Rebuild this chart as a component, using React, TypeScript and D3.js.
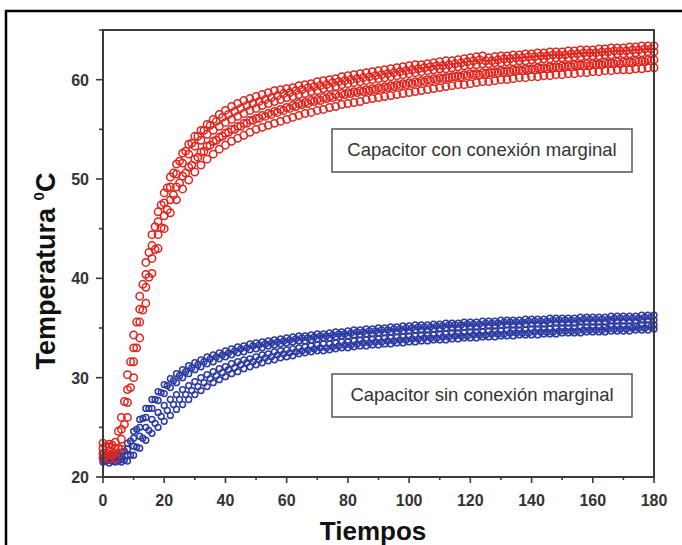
import React from "react";
import * as d3 from "d3";

const TIME_EVEN = d3.range(0, 181, 2);
const TIME_ODD = d3.range(1, 180, 2);
const X_TICKS = [0, 20, 40, 60, 80, 100, 120, 140, 160, 180];
const X_MINOR = d3.range(10, 180, 20);
const Y_TICKS = [20, 30, 40, 50, 60];
const Y_MINOR = [25, 35, 45, 55, 65];

// red traces (even seconds)
const RED_1 = [23.4,23.3,23.5,26.0,30.3,34.3,38.2,41.6,44.4,46.7,48.6,50.2,51.5,52.6,53.5,54.3,54.9,55.5,56.0,56.5,56.9,57.3,57.6,57.9,58.1,58.3,58.5,58.7,58.9,59.0,59.1,59.2,59.4,59.5,59.6,59.8,59.9,60.0,60.1,60.3,60.4,60.5,60.6,60.7,60.8,60.9,61.0,61.1,61.2,61.3,61.4,61.5,61.5,61.6,61.7,61.8,61.9,61.9,62.0,62.1,62.2,62.3,62.4,62.2,62.3,62.4,62.4,62.5,62.5,62.6,62.6,62.7,62.7,62.8,62.8,62.8,62.9,62.9,63.0,63.0,63.0,63.1,63.1,63.2,63.2,63.2,63.3,63.3,63.4,63.4,63.4];
const RED_2 = [22.9,23.0,22.9,24.8,28.8,33.0,36.9,40.4,43.3,45.7,47.6,49.2,50.5,51.6,52.5,53.3,53.9,54.5,54.9,55.3,55.7,56.0,56.3,56.6,56.9,57.1,57.4,57.6,57.8,58.0,58.2,58.3,58.5,58.6,58.8,58.9,59.1,59.2,59.3,59.5,59.6,59.7,59.8,59.9,60.0,60.1,60.2,60.3,60.4,60.5,60.6,60.7,60.8,60.9,61.0,61.1,61.1,61.2,61.3,61.4,61.5,61.5,61.6,61.6,61.7,61.7,61.8,61.8,61.9,61.9,62.0,62.0,62.1,62.1,62.2,62.2,62.2,62.3,62.3,62.4,62.4,62.4,62.5,62.5,62.6,62.6,62.6,62.7,62.7,62.8,62.8];
const RED_3 = [22.4,22.3,22.4,23.8,27.5,31.6,35.6,39.1,42.0,44.4,46.3,47.9,49.2,50.3,51.2,52.0,52.7,53.3,53.8,54.2,54.6,55.0,55.3,55.6,55.9,56.1,56.4,56.6,56.8,57.0,57.2,57.4,57.6,57.7,57.9,58.0,58.2,58.3,58.5,58.6,58.7,58.8,58.9,59.0,59.1,59.2,59.3,59.4,59.5,59.6,59.7,59.8,59.9,60.0,60.1,60.2,60.2,60.3,60.4,60.5,60.6,60.6,60.7,60.7,60.8,60.9,60.9,61.0,61.0,61.1,61.1,61.2,61.2,61.3,61.3,61.4,61.4,61.5,61.5,61.6,61.6,61.6,61.7,61.7,61.8,61.8,61.8,61.9,61.9,62.0,62.0];
const RED_4 = [21.9,21.8,21.9,22.8,26.0,30.0,34.0,37.5,40.5,43.0,45.0,46.6,47.9,49.0,49.9,50.7,51.4,52.0,52.5,53.0,53.4,53.8,54.1,54.4,54.7,55.0,55.2,55.4,55.6,55.8,56.0,56.2,56.4,56.6,56.7,56.9,57.0,57.2,57.3,57.5,57.6,57.7,57.8,58.0,58.1,58.2,58.3,58.4,58.5,58.6,58.7,58.8,58.9,59.0,59.1,59.2,59.3,59.4,59.5,59.5,59.6,59.7,59.8,59.8,59.9,60.0,60.0,60.1,60.2,60.2,60.3,60.3,60.4,60.4,60.5,60.5,60.6,60.6,60.7,60.7,60.8,60.8,60.9,60.9,61.0,61.0,61.0,61.1,61.1,61.2,61.2];
// red traces (odd seconds)
const RED_5 = [23.1,23.2,24.6,27.6,31.6,35.6,39.4,42.6,45.2,47.4,49.1,50.6,51.8,52.8,53.6,54.3,54.9,55.4,55.8,56.2,56.5,56.8,57.1,57.4,57.6,57.8,58.0,58.2,58.4,58.6,58.7,58.9,59.0,59.2,59.3,59.4,59.5,59.7,59.8,59.9,60.0,60.1,60.2,60.3,60.4,60.5,60.6,60.7,60.8,60.9,61.0,61.1,61.2,61.3,61.4,61.4,61.5,61.6,61.7,61.8,61.9,62.0,61.9,61.9,62.0,62.1,62.1,62.2,62.2,62.3,62.3,62.4,62.4,62.5,62.5,62.5,62.6,62.6,62.7,62.7,62.7,62.8,62.8,62.9,62.9,62.9,63.0,63.0,63.1,63.1];
const RED_6 = [22.1,22.2,22.9,25.3,29.0,33.0,36.8,40.1,42.9,45.1,46.9,48.4,49.6,50.6,51.4,52.2,52.8,53.4,53.9,54.3,54.7,55.0,55.3,55.6,55.9,56.1,56.3,56.5,56.7,56.9,57.1,57.3,57.5,57.6,57.8,57.9,58.1,58.2,58.3,58.5,58.6,58.7,58.8,58.9,59.0,59.1,59.2,59.3,59.4,59.5,59.6,59.7,59.8,59.9,60.0,60.1,60.2,60.3,60.3,60.4,60.5,60.5,60.6,60.7,60.7,60.8,60.8,60.9,60.9,61.0,61.0,61.1,61.1,61.2,61.2,61.3,61.3,61.4,61.4,61.4,61.5,61.5,61.6,61.6,61.6,61.7,61.7,61.8,61.8,61.9];

// blue traces (even seconds)
const BLUE_1 = [22.3,22.2,22.3,22.5,23.4,24.6,25.8,26.9,27.8,28.6,29.3,29.9,30.4,30.8,31.2,31.5,31.8,32.1,32.3,32.5,32.7,32.9,33.1,33.2,33.4,33.5,33.6,33.7,33.8,33.9,34.0,34.1,34.2,34.2,34.3,34.4,34.4,34.5,34.6,34.6,34.7,34.8,34.8,34.9,34.9,35.0,35.0,35.1,35.1,35.2,35.2,35.3,35.3,35.3,35.4,35.4,35.5,35.5,35.5,35.6,35.6,35.6,35.7,35.7,35.7,35.8,35.8,35.8,35.8,35.9,35.9,35.9,35.9,36.0,36.0,36.0,36.0,36.0,36.1,36.1,36.1,36.1,36.1,36.2,36.2,36.2,36.2,36.2,36.3,36.3,36.3];
const BLUE_2 = [22.0,21.9,22.0,22.1,22.8,23.9,25.0,26.0,26.9,27.7,28.4,29.0,29.5,30.0,30.4,30.8,31.1,31.4,31.6,31.9,32.1,32.3,32.5,32.6,32.8,32.9,33.0,33.2,33.3,33.4,33.5,33.6,33.7,33.7,33.8,33.9,34.0,34.0,34.1,34.2,34.2,34.3,34.3,34.4,34.4,34.5,34.5,34.6,34.6,34.7,34.7,34.8,34.8,34.8,34.9,34.9,35.0,35.0,35.0,35.1,35.1,35.1,35.2,35.2,35.2,35.3,35.3,35.3,35.3,35.4,35.4,35.4,35.4,35.5,35.5,35.5,35.5,35.5,35.6,35.6,35.6,35.6,35.6,35.7,35.7,35.7,35.7,35.7,35.8,35.8,35.8];
const BLUE_3 = [21.7,21.7,21.8,21.8,22.2,23.1,24.1,25.0,25.8,26.5,27.2,27.8,28.3,28.8,29.2,29.6,30.0,30.3,30.6,30.9,31.1,31.4,31.6,31.8,31.9,32.1,32.3,32.4,32.6,32.7,32.8,32.9,33.0,33.1,33.2,33.3,33.4,33.4,33.5,33.6,33.6,33.7,33.8,33.8,33.9,33.9,34.0,34.0,34.1,34.1,34.2,34.2,34.3,34.3,34.3,34.4,34.4,34.5,34.5,34.5,34.6,34.6,34.6,34.7,34.7,34.7,34.8,34.8,34.8,34.8,34.9,34.9,34.9,34.9,35.0,35.0,35.0,35.0,35.1,35.1,35.1,35.1,35.1,35.2,35.2,35.2,35.2,35.2,35.3,35.3,35.3];
const BLUE_4 = [21.5,21.4,21.5,21.5,21.6,22.2,22.9,23.7,24.4,25.0,25.6,26.2,26.8,27.3,27.8,28.3,28.7,29.1,29.5,29.8,30.1,30.4,30.6,30.9,31.1,31.3,31.5,31.7,31.8,32.0,32.1,32.2,32.4,32.5,32.6,32.7,32.7,32.8,32.9,33.0,33.0,33.1,33.2,33.2,33.3,33.3,33.4,33.4,33.5,33.5,33.6,33.6,33.7,33.7,33.8,33.8,33.8,33.9,33.9,34.0,34.0,34.0,34.1,34.1,34.1,34.2,34.2,34.2,34.3,34.3,34.3,34.3,34.4,34.4,34.4,34.5,34.5,34.5,34.5,34.6,34.6,34.6,34.6,34.7,34.7,34.7,34.7,34.8,34.8,34.8,34.9];
// blue traces (odd seconds)
const BLUE_5 = [22.1,22.1,22.2,22.6,23.6,24.8,25.9,26.9,27.8,28.5,29.2,29.7,30.2,30.6,31.0,31.3,31.6,31.9,32.1,32.3,32.5,32.7,32.9,33.0,33.2,33.3,33.4,33.5,33.6,33.7,33.8,33.9,34.0,34.0,34.1,34.2,34.2,34.3,34.4,34.4,34.5,34.6,34.6,34.7,34.7,34.8,34.8,34.9,34.9,35.0,35.0,35.1,35.1,35.1,35.2,35.2,35.3,35.3,35.3,35.4,35.4,35.4,35.5,35.5,35.5,35.6,35.6,35.6,35.6,35.7,35.7,35.7,35.7,35.8,35.8,35.8,35.8,35.8,35.9,35.9,35.9,35.9,35.9,36.0,36.0,36.0,36.0,36.0,36.1,36.1];
const BLUE_6 = [21.6,21.6,21.6,21.7,22.2,23.0,23.9,24.7,25.4,26.1,26.7,27.3,27.8,28.3,28.7,29.1,29.5,29.9,30.2,30.5,30.8,31.0,31.3,31.5,31.6,31.8,32.0,32.1,32.3,32.4,32.5,32.6,32.7,32.8,32.9,33.0,33.0,33.1,33.2,33.3,33.3,33.4,33.5,33.5,33.6,33.6,33.7,33.7,33.8,33.8,33.9,33.9,34.0,34.0,34.0,34.1,34.1,34.2,34.2,34.2,34.3,34.3,34.3,34.4,34.4,34.4,34.5,34.5,34.5,34.5,34.6,34.6,34.6,34.6,34.7,34.7,34.7,34.7,34.8,34.8,34.8,34.8,34.9,34.9,34.9,34.9,35.0,35.0,35.0,35.1];

const RED_SERIES = [
  { t: TIME_EVEN, v: RED_1 }, { t: TIME_ODD, v: RED_5 }, { t: TIME_EVEN, v: RED_2 },
  { t: TIME_EVEN, v: RED_3 }, { t: TIME_ODD, v: RED_6 }, { t: TIME_EVEN, v: RED_4 },
];
const BLUE_SERIES = [
  { t: TIME_EVEN, v: BLUE_1 }, { t: TIME_ODD, v: BLUE_5 }, { t: TIME_EVEN, v: BLUE_2 },
  { t: TIME_EVEN, v: BLUE_3 }, { t: TIME_ODD, v: BLUE_6 }, { t: TIME_EVEN, v: BLUE_4 },
];

const LABEL_RED = "Capacitor con conexión marginal";
const LABEL_BLUE = "Capacitor sin conexión marginal";
const X_TITLE = "Tiempos";
const Y_TITLE = "Temperatura ";

const FONT = "'Liberation Sans', Arial, Helvetica, sans-serif";
const RED = "#e3231c";
const BLUE = "#2c3aa3";
const AXIS = "#3a3a3a";

type Series = { t: number[]; v: number[] };

export default function App() {
  const left = 103, right = 654, top = 30, bottom = 477;
  const x = d3.scaleLinear().domain([0, 180]).range([left, right]);
  const y = d3.scaleLinear().domain([20, 65]).range([bottom, top]);

  const points = (series: Series[]) =>
    series.flatMap((s, si) => {
      const n = Math.min(s.t.length, s.v.length);
      return s.v.slice(0, n).map((v, i) => ({ key: `${si}-${i}`, cx: x(s.t[i]), cy: y(v) }));
    });

  return (
    <div style={{ position: "absolute", left: 0, top: 0 }}>
      <svg width={682} height={545} style={{ display: "block", background: "#fff" }}>
        <rect x={0} y={0} width={682} height={545} fill="#fff" />
        {/* outer frame */}
        <path d="M6,560 L6,11 L690,11" fill="none" stroke="#000" strokeWidth={2.5} />

        {/* blue markers */}
        <g fill="none" stroke={BLUE} strokeWidth={1.5}>
          {points(BLUE_SERIES).map((p) => (
            <circle key={"b" + p.key} cx={p.cx} cy={p.cy} r={2.9} />
          ))}
        </g>
        {/* red markers */}
        <g fill="none" stroke={RED} strokeWidth={1.5}>
          {points(RED_SERIES).map((p) => (
            <circle key={"r" + p.key} cx={p.cx} cy={p.cy} r={3.7} />
          ))}
        </g>

        {/* plot frame */}
        <rect x={left} y={top} width={right - left} height={bottom - top} fill="none" stroke={AXIS} strokeWidth={2} />

        {/* ticks */}
        <g stroke={AXIS} strokeWidth={1.6}>
          {X_TICKS.map((t) => (
            <line key={"xt" + t} x1={x(t)} x2={x(t)} y1={bottom} y2={bottom + 6} />
          ))}
          {X_MINOR.map((t) => (
            <line key={"xm" + t} x1={x(t)} x2={x(t)} y1={bottom} y2={bottom + 3} />
          ))}
          {Y_TICKS.map((t) => (
            <line key={"yt" + t} x1={left - 7} x2={left} y1={y(t)} y2={y(t)} />
          ))}
          {Y_MINOR.map((t) => (
            <line key={"ym" + t} x1={left - 4} x2={left} y1={y(t)} y2={y(t)} />
          ))}
        </g>
        <g fontFamily={FONT} fontWeight="bold" fontSize={16} fill="#333">
          {X_TICKS.map((t) => (
            <text key={"xl" + t} x={x(t)} y={506} textAnchor="middle">{t}</text>
          ))}
          {Y_TICKS.map((t) => (
            <text key={"yl" + t} x={89} y={y(t) + 6} textAnchor="end">{t}</text>
          ))}
        </g>

        {/* axis titles */}
        <text x={373} y={540} textAnchor="middle" fontFamily={FONT} fontWeight="bold" fontSize={26} fill="#111">
          {X_TITLE}
        </text>
        <text
          transform="translate(55,271) rotate(-90)"
          textAnchor="middle"
          fontFamily={FONT}
          fontWeight="bold"
          fontSize={27}
          fill="#111"
        >
          {Y_TITLE}
          <tspan fontSize={15} dy={-11}>0</tspan>
          <tspan dy={11}>C</tspan>
        </text>

        {/* legend boxes */}
        <rect x={332} y={129} width={300} height={43} fill="#fff" stroke="#555" strokeWidth={1.5} />
        <text x={482} y={156} textAnchor="middle" fontFamily={FONT} fontSize={18.5} fill="#333">{LABEL_RED}</text>
        <rect x={332} y={374} width={300} height={43} fill="#fff" stroke="#555" strokeWidth={1.5} />
        <text x={482} y={401} textAnchor="middle" fontFamily={FONT} fontSize={18.5} fill="#333">{LABEL_BLUE}</text>
      </svg>
    </div>
  );
}
